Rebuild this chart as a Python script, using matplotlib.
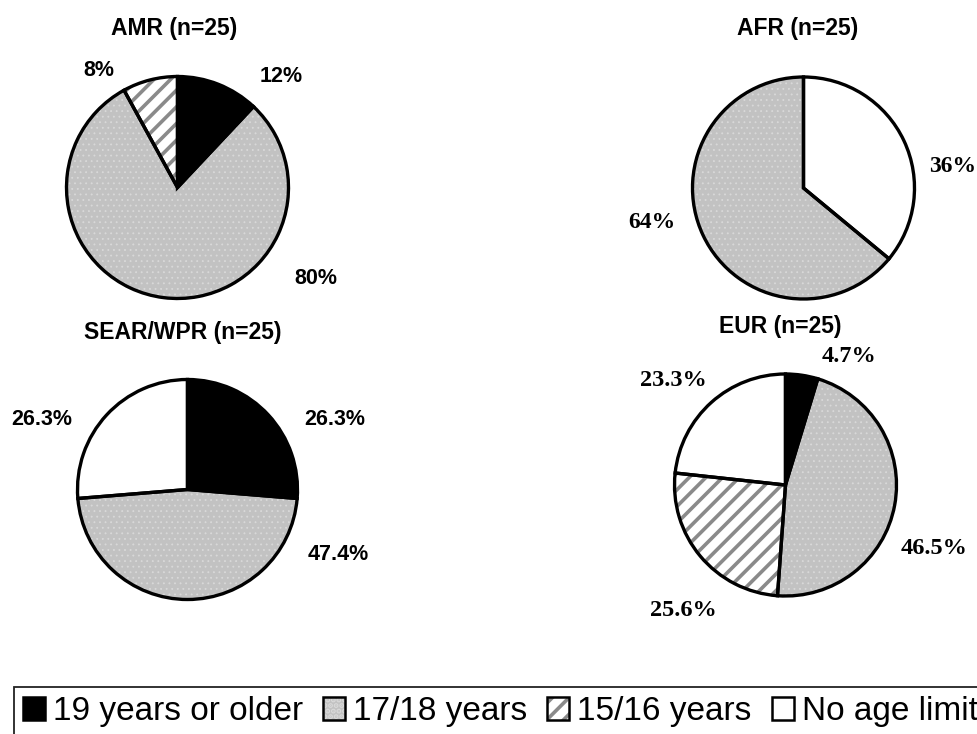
import matplotlib
matplotlib.use("Agg")
import matplotlib.pyplot as plt
from matplotlib.patches import Patch
from matplotlib.legend_handler import HandlerTuple

# ---- data -------------------------------------------------------------
categories = ["19 years or older", "17/18 years", "15/16 years", "No age limit"]
regions = ["AMR (n=25)", "AFR (n=25)", "SEAR/WPR (n=25)", "EUR (n=25)"]

# shares per region, in category order
amr_values = [12, 80, 8, 0]
afr_values = [0, 64, 0, 36]
sear_values = [26.3, 47.4, 0, 26.3]
eur_values = [4.7, 46.5, 25.6, 23.3]

# clockwise drawing order of the categories, starting at 12 o'clock
amr_order = [0, 1, 2]
afr_order = [3, 1]
sear_order = [0, 1, 3]
eur_order = [0, 1, 2, 3]

# ---- style ------------------------------------------------------------
W, H = 978, 734
plt.rcParams["hatch.linewidth"] = 2.6

FILL = ["#000000", "#c2c2c2", "#ffffff", "#ffffff"]
HATCH = [None, "...", "//", None]
HATCH_COLOR = ["#000000", "#d9d9d9", "#8a8a8a", "#ffffff"]

SANS = "Liberation Sans"
SERIF = "Liberation Serif"

fig = plt.figure(figsize=(W / 100, H / 100), dpi=100)
fig.patch.set_facecolor("white")


def fpos(px, py):
    return px / W, 1 - py / H


def draw_pie(values, order, cx, cy, r):
    pad = 1.08
    ax = fig.add_axes([(cx - r * pad) / W, 1 - (cy + r * pad) / H,
                       2 * r * pad / W, 2 * r * pad / H])
    vals = [values[i] for i in order]
    fills = [FILL[i] for i in order]
    hatches = [HATCH[i] for i in order]
    # fills and textures
    wedges, _ = ax.pie(vals, colors=fills, startangle=90, counterclock=False,
                       hatch=hatches, wedgeprops=dict(linewidth=0))
    for w, i in zip(wedges, order):
        w.set_edgecolor(HATCH_COLOR[i])
        w.set_linewidth(0)
        if HATCH[i] == "..." and hasattr(w, "set_hatch_linewidth"):
            w.set_hatch_linewidth(0.6)
    # outlines
    ax.pie(vals, colors=["none"] * len(vals), startangle=90, counterclock=False,
           wedgeprops=dict(linewidth=2.4, edgecolor="black", fill=False))
    ax.set_xlim(-pad, pad)
    ax.set_ylim(-pad, pad)
    ax.set_aspect("auto")
    ax.axis("off")
    return ax


pies = [
    (amr_values, amr_order, 177.5, 187.5, 111),
    (afr_values, afr_order, 803.5, 188, 111),
    (sear_values, sear_order, 187.5, 489.5, 110),
    (eur_values, eur_order, 785.5, 485, 111),
]
for vals, order, cx, cy, r in pies:
    draw_pie(vals, order, cx, cy, r)

# ---- titles -----------------------------------------------------------
title_pos = [(174, 29), (798, 29), (183, 332), (780, 326)]
for name, (tx, ty) in zip(regions, title_pos):
    fig.text(*fpos(tx, ty), name, ha="center", va="center",
             fontsize=16.5, fontweight="bold", family=SANS)

# ---- percentage labels (category index -> label centre in pixels) -----
label_pos = [
    {0: (281, 76), 1: (316, 279), 2: (99, 71)},
    {3: (953, 166), 1: (652, 222)},
    {0: (335, 419), 1: (338, 555), 3: (42, 419)},
    {0: (849, 357), 1: (934, 549), 2: (683, 610), 3: (673, 380)},
]
label_font = [(SANS, 15.5), (SERIF, 17), (SANS, 15.5), (SERIF, 17.5)]
all_values = [amr_values, afr_values, sear_values, eur_values]
for vals, pos, (fam, fs) in zip(all_values, label_pos, label_font):
    for i, (lx, ly) in pos.items():
        fig.text(*fpos(lx, ly), f"{vals[i]:g}%", ha="center", va="center",
                 fontsize=fs, fontweight="bold", family=fam)

# ---- legend -----------------------------------------------------------
handles = []
for i in range(len(categories)):
    if HATCH[i]:
        inner = Patch(facecolor=FILL[i], edgecolor=HATCH_COLOR[i],
                      hatch=HATCH[i], linewidth=0)
        outer = Patch(facecolor="none", edgecolor="black", linewidth=1.8)
        handles.append((inner, outer))
    else:
        handles.append(Patch(facecolor=FILL[i], edgecolor="black", linewidth=1.8))

leg = fig.legend(handles, categories, loc="upper left",
                 bbox_to_anchor=fpos(14, 687), ncol=4,
                 prop=dict(family=SANS, size=24),
                 frameon=True, fancybox=False, framealpha=1,
                 edgecolor="#222222", borderpad=0.27, borderaxespad=0,
                 handlelength=0.66, handleheight=0.66, handletextpad=0.24,
                 columnspacing=0.6,
                 handler_map={tuple: HandlerTuple(ndivide=1, pad=0)})
leg.get_frame().set_linewidth(1.3)

fig.savefig("out.png", dpi=100)
